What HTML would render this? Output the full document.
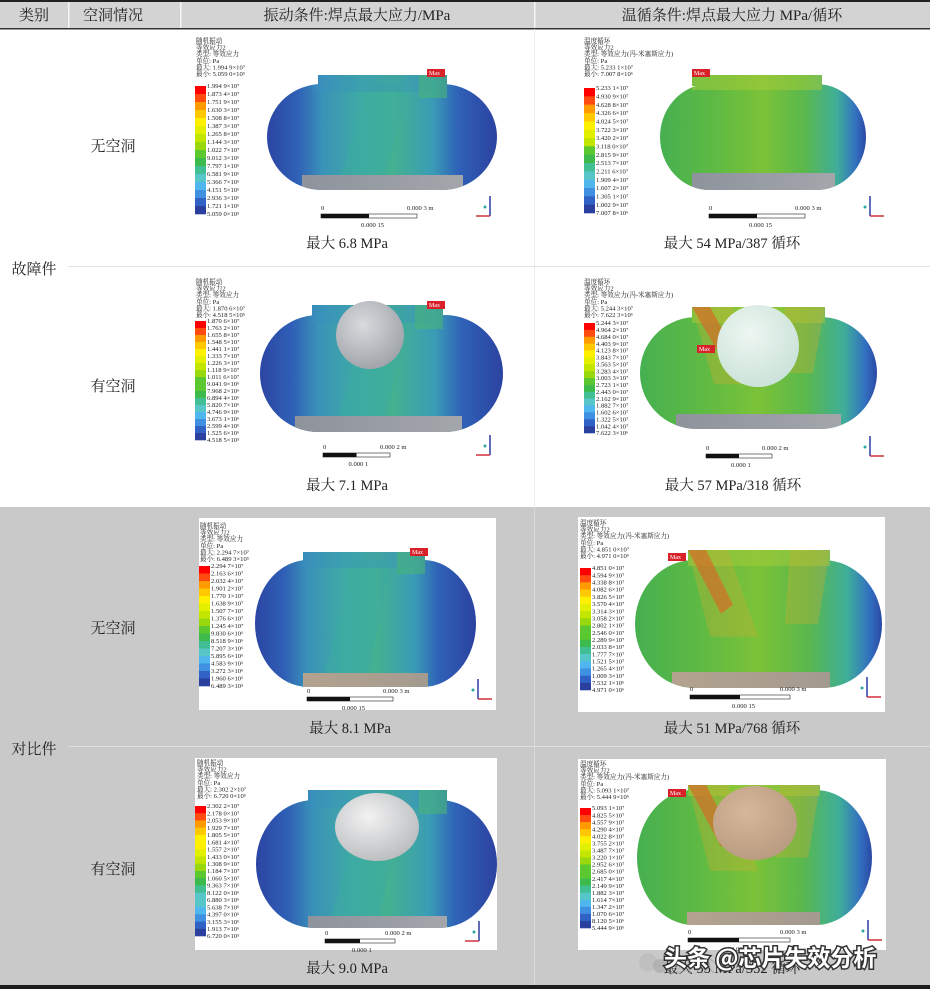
<!DOCTYPE html>
<html><head><meta charset="utf-8">
<style>
html,body{margin:0;padding:0;background:#fff;}
svg{display:block;}
.ser{font-family:"Liberation Serif","Noto Serif CJK SC",serif;}
.lg{font-family:"Liberation Serif","Noto Serif CJK SC",serif;font-size:6.6px;fill:#222;}
</style></head>
<body>
<svg id="s" width="930" height="989" viewBox="0 0 930 989" xmlns="http://www.w3.org/2000/svg">
<defs>
<linearGradient id="gVib" x1="0" x2="1" y1="0" y2="0">
<stop offset="0" stop-color="#2b45a3"/><stop offset="0.13" stop-color="#2f5fb6"/><stop offset="0.24" stop-color="#3a92b8"/><stop offset="0.4" stop-color="#3eaaa5"/><stop offset="0.55" stop-color="#44b190"/><stop offset="0.72" stop-color="#3a9cb6"/><stop offset="0.83" stop-color="#2f62b8"/><stop offset="1" stop-color="#2b42a0"/>
</linearGradient>
<linearGradient id="gTemp" x1="0" x2="1" y1="0" y2="0">
<stop offset="0" stop-color="#46b050"/><stop offset="0.3" stop-color="#62bb42"/><stop offset="0.5" stop-color="#7cc238"/><stop offset="0.7" stop-color="#5ab84c"/><stop offset="0.86" stop-color="#3fae9a"/><stop offset="0.95" stop-color="#3270c0"/><stop offset="1" stop-color="#2b48a4"/>
</linearGradient>
<linearGradient id="gPlate" x1="0" x2="1"><stop offset="0" stop-color="#8e939c"/><stop offset="1" stop-color="#a3a6ab"/></linearGradient>
<linearGradient id="gTan" x1="0" x2="1"><stop offset="0" stop-color="#b3a38f"/><stop offset="1" stop-color="#a39a8f"/></linearGradient>
<radialGradient id="rGray" cx="0.4" cy="0.35" r="0.7"><stop offset="0" stop-color="#d8dadd"/><stop offset="1" stop-color="#9ea2a8"/></radialGradient>
<radialGradient id="rMint" cx="0.4" cy="0.35" r="0.7"><stop offset="0" stop-color="#eef6f2"/><stop offset="1" stop-color="#c9e2d8"/></radialGradient>
<radialGradient id="rWhite" cx="0.4" cy="0.35" r="0.7"><stop offset="0" stop-color="#f2f2f2"/><stop offset="1" stop-color="#b9bbbe"/></radialGradient>
<radialGradient id="rTan" cx="0.4" cy="0.35" r="0.7"><stop offset="0" stop-color="#d6b79a"/><stop offset="1" stop-color="#b89a80"/></radialGradient>
</defs>

<rect x="0" y="0" width="930" height="989" fill="#ffffff"/>
<rect x="0" y="0" width="930" height="28" fill="#d3d3d3"/>
<rect x="0" y="0" width="930" height="2" fill="#222"/>
<rect x="0" y="28" width="930" height="1.5" fill="#333"/>
<rect x="68" y="2" width="1.5" height="26" fill="#f4f4f4"/>
<rect x="180" y="2" width="1.5" height="26" fill="#f4f4f4"/>
<rect x="534" y="2" width="1.5" height="26" fill="#f4f4f4"/>
<rect x="68" y="266" width="862" height="1" fill="#e2e2e2"/>
<rect x="534" y="29" width="1" height="477" fill="#ececec"/>
<rect x="0" y="507" width="930" height="479" fill="#c9c9c9"/>
<rect x="68" y="746" width="862" height="1" fill="#dedede"/>
<rect x="534" y="507" width="1" height="479" fill="#dadada"/>
<rect x="0" y="985" width="930" height="4" fill="#1c1c1c"/>

<g class="ser" font-size="15" fill="#222" text-anchor="middle">
<text x="34" y="20">类别</text>
<text x="113" y="20">空洞情况</text>
<text x="357" y="20">振动条件:焊点最大应力/MPa</text>
<text x="732" y="20">温循条件:焊点最大应力 MPa/循环</text>
<text x="34" y="274">故障件</text>
<text x="113" y="151">无空洞</text>
<text x="113" y="391">有空洞</text>
<text x="34" y="754">对比件</text>
<text x="113" y="633">无空洞</text>
<text x="113" y="874">有空洞</text>
</g>
<g id="panels"></g>
<g>
<circle cx="648" cy="962" r="9" fill="#bbb" opacity="0.7"/><circle cx="660" cy="966" r="7" fill="#aaa" opacity="0.7"/>
<text x="672" y="972" class="ser" font-size="22" fill="#aaa" opacity="0.6">公众</text>
<text x="664" y="966" font-family="'Noto Sans CJK SC',sans-serif" font-size="23" font-weight="bold" fill="#fff" stroke="#333" stroke-width="3" paint-order="stroke">头条 @芯片失效分析</text>
</g>
</svg>
<script>
const p1Values=["1.994 9×10⁷","1.873 4×10⁷","1.751 9×10⁷","1.630 3×10⁷","1.508 8×10⁷","1.387 3×10⁷","1.265 8×10⁷","1.144 3×10⁷","1.022 7×10⁷","9.012 3×10⁶","7.797 1×10⁶","6.581 9×10⁶","5.366 7×10⁶","4.151 5×10⁶","2.936 3×10⁶","1.721 1×10⁶","5.059 0×10⁵"];
const p2Values=["5.233 1×10⁷","4.930 9×10⁷","4.628 8×10⁷","4.326 6×10⁷","4.024 5×10⁷","3.722 3×10⁷","3.420 2×10⁷","3.118 0×10⁷","2.815 9×10⁷","2.513 7×10⁷","2.211 6×10⁷","1.909 4×10⁷","1.607 2×10⁷","1.305 1×10⁷","1.002 9×10⁷","7.007 8×10⁶"];
const p3Values=["1.870 6×10⁷","1.763 2×10⁷","1.655 8×10⁷","1.548 5×10⁷","1.441 1×10⁷","1.333 7×10⁷","1.226 3×10⁷","1.118 9×10⁷","1.011 6×10⁷","9.041 9×10⁶","7.968 2×10⁶","6.894 4×10⁶","5.820 7×10⁶","4.746 9×10⁶","3.673 1×10⁶","2.599 4×10⁶","1.525 6×10⁶","4.518 5×10⁵"];
const p4Values=["5.244 3×10⁷","4.964 2×10⁷","4.684 0×10⁷","4.403 9×10⁷","4.123 8×10⁷","3.843 7×10⁷","3.563 5×10⁷","3.283 4×10⁷","3.003 3×10⁷","2.723 1×10⁷","2.443 0×10⁷","2.162 9×10⁷","1.882 7×10⁷","1.602 6×10⁷","1.322 5×10⁷","1.042 4×10⁷","7.622 3×10⁶"];
const p5Values=["2.294 7×10⁷","2.163 6×10⁷","2.032 4×10⁷","1.901 2×10⁷","1.770 1×10⁷","1.638 9×10⁷","1.507 7×10⁷","1.376 6×10⁷","1.245 4×10⁷","9.830 6×10⁶","8.518 9×10⁶","7.207 3×10⁶","5.895 6×10⁶","4.583 9×10⁶","3.272 3×10⁶","1.960 6×10⁶","6.489 3×10⁵"];
const p6Values=["4.851 0×10⁷","4.594 9×10⁷","4.338 8×10⁷","4.082 6×10⁷","3.826 5×10⁷","3.570 4×10⁷","3.314 3×10⁷","3.058 2×10⁷","2.802 1×10⁷","2.546 0×10⁷","2.289 9×10⁷","2.033 8×10⁷","1.777 7×10⁷","1.521 5×10⁷","1.265 4×10⁷","1.009 3×10⁷","7.532 1×10⁶","4.971 0×10⁶"];
const p7Values=["2.302 2×10⁷","2.178 0×10⁷","2.053 9×10⁷","1.929 7×10⁷","1.805 5×10⁷","1.681 4×10⁷","1.557 2×10⁷","1.433 0×10⁷","1.308 9×10⁷","1.184 7×10⁷","1.060 5×10⁷","9.363 7×10⁶","8.122 0×10⁶","6.880 3×10⁶","5.638 7×10⁶","4.397 0×10⁶","3.155 3×10⁶","1.913 7×10⁶","6.720 0×10⁵"];
const p8Values=["5.093 1×10⁷","4.825 5×10⁷","4.557 9×10⁷","4.290 4×10⁷","4.022 8×10⁷","3.755 2×10⁷","3.487 7×10⁷","3.220 1×10⁷","2.952 6×10⁷","2.685 0×10⁷","2.417 4×10⁷","2.149 9×10⁷","1.882 3×10⁷","1.614 7×10⁷","1.347 2×10⁷","1.070 6×10⁷","8.120 5×10⁶","5.444 9×10⁶"];
const captions=["最大 6.8 MPa","最大 54 MPa/387 循环","最大 7.1 MPa","最大 57 MPa/318 循环","最大 8.1 MPa","最大 51 MPa/768 循环","最大 9.0 MPa","最大 55 MPa/352 循环"];
const scaleLabels=[["0.000 3 m","0.000 15"],["0.000 3 m","0.000 15"],["0.000 2 m","0.000 1"],["0.000 2 m","0.000 1"],["0.000 3 m","0.000 15"],["0.000 3 m","0.000 15"],["0.000 2 m","0.000 1"],["0.000 3 m","0.000 15"]];

const cmap=['#ff0000','#ff4a10','#ff9a00','#ffc800','#fff000','#e2f000','#c2e600','#98d80c','#5cc830','#3cba4c','#40bf94','#56c6c8','#4fb6ee','#3f90e0','#2f62c4','#2a3f9e'];
function cAt(i,n){return cmap[Math.min(15,Math.round(i*15/Math.max(1,n-1)))];}

const P=[
 {vals:p1Values,t:'v',bg:null,lx:195,ly:86,lb:214,tx:196,ty:43,tab:[318,447,75],body:[267,497,84,190],plate:[302,463,175,190],sb:[321,417,214],cx:347,cy:248,mx:[427,73]},
 {vals:p2Values,t:'t',bg:null,lx:584,ly:88,lb:213,tx:584,ty:43,tab:[692,822,75],body:[660,866,84,190],plate:[692,835,173,188],sb:[709,805,214],cx:732,cy:248,mx:[692,73]},
 {vals:p3Values,t:'v',bg:null,lx:195,ly:321,lb:440,tx:196,ty:284,tab:[312,443,305],body:[260,503,315,432],plate:[295,462,416,432],sb:[323,390,453],cx:347,cy:490,mx:[427,305],vd:[370,335,34,34,'rGray']},
 {vals:p4Values,t:'t',bg:null,lx:584,ly:323,lb:433,tx:584,ty:284,tab:[692,825,307],body:[640,877,317,429],plate:[676,841,414,429],sb:[706,772,454],cx:733,cy:490,mx:[697,349],vd:[758,346,41,41,'rMint'],hot:true},
 {vals:p5Values,t:'v',bg:[199,518,297,192],lx:199,ly:566,lb:686,tx:200,ty:528,tab:[303,425,552],body:[255,476,560,687],plate:[303,428,673,687],sb:[307,393,697],cx:350,cy:733,mx:[410,552]},
 {vals:p6Values,t:'t',bg:[578,517,307,195],lx:580,ly:568,lb:690,tx:580,ty:525,tab:[688,830,550],body:[635,882,560,688],plate:[672,830,672,688],sb:[690,790,695],cx:732,cy:733,mx:[668,557],hot:true},
 {vals:p7Values,t:'v',bg:[195,758,302,192],lx:195,ly:806,lb:936,tx:197,ty:765,tab:[308,447,790],body:[256,497,800,928],plate:[308,447,916,928],sb:[325,395,939],cx:347,cy:973,mx:null,vd:[377,827,42,34,'rWhite']},
 {vals:p8Values,t:'t',bg:[578,759,308,191],lx:580,ly:808,lb:928,tx:580,ty:766,tab:[688,820,785],body:[637,872,790,925],plate:[687,820,912,925],sb:[688,790,938],cx:732,cy:973,mx:[668,793],vd:[755,823,42,37,'rTan'],hot:true}
];
const NS='http://www.w3.org/2000/svg';
const root=document.getElementById('panels');
function el(tag,attrs,parent){const e=document.createElementNS(NS,tag);for(const k in attrs)e.setAttribute(k,attrs[k]);(parent||root).appendChild(e);return e;}

P.forEach((p,i)=>{
 const g=el('g',{});
 
 
 if(p.bg){el('rect',{x:p.bg[0],y:p.bg[1],width:p.bg[2],height:p.bg[3],fill:'#fff'},g);}
 const title=p.t==='v'?['随机振动','等效应力2','类型: 等效应力','单位: Pa','最大: '+p.vals[0],'最小: '+p.vals[p.vals.length-1]]:['温度循环','等效应力2','类型: 等效应力(冯-米塞斯应力)','单位: Pa','最大: '+p.vals[0],'最小: '+p.vals[p.vals.length-1]];
 title.forEach((s,k)=>{const t=el('text',{x:p.tx,y:p.ty+k*6.6,class:'lg'},g);t.textContent=s;});
 const n=p.vals.length, nb=n-1, h=(p.lb-p.ly)/nb;
 const lg=el('g',{},g);
 
 
 for(let k=0;k<nb;k++){
  const r=el('rect',{x:p.lx,y:p.ly+k*h,width:11,height:h+0.3,fill:cAt(k,nb)},lg);
  
  
 }
 p.vals.forEach((v,k)=>{const t=el('text',{x:p.lx+12,y:p.ly+k*h+2.2,class:'lg'},lg);t.textContent=v;});
 const [x0,x1,yt,yb]=p.body, H=yb-yt, rx=(x1-x0)*0.24, ry=H/2;
 const cid='clip'+i;
 const cp=el('clipPath',{id:cid},g);
 const d=`M${x0+rx},${yt} L${x1-rx},${yt} A${rx},${ry} 0 0 1 ${x1-rx},${yb} L${x0+rx},${yb} A${rx},${ry} 0 0 1 ${x0+rx},${yt} Z`;
 el('path',{d:d},cp);
 el('rect',{x:p.tab[0],y:p.tab[2],width:p.tab[1]-p.tab[0],height:yt-p.tab[2]+2},cp);
 const sh=el('g',{'clip-path':`url(#${cid})`},g);
 
 
 el('rect',{x:x0,y:p.tab[2],width:x1-x0,height:yb-p.tab[2],fill:p.t==='v'?'url(#gVib)':'url(#gTemp)'},sh);
 const W=x1-x0;
 if(p.t==='v'){
  el('path',{d:`M${x0+W*0.3},${yb} L${x0+W*0.45},${yt} L${x0+W*0.62},${yt} L${x0+W*0.5},${yb} Z`,fill:'#3bab9f',opacity:0.5},sh);
  el('rect',{x:x0+W*0.2,y:p.tab[2],width:W*0.55,height:(yt-p.tab[2])+8,fill:'#3a8fc0',opacity:0.35},sh);
  el('rect',{x:p.tab[1]-28,y:p.tab[2],width:28,height:yt-p.tab[2]+14,fill:'#48b478',opacity:0.6},sh);
 } else {
  el('rect',{x:p.tab[0],y:p.tab[2],width:p.tab[1]-p.tab[0],height:yt-p.tab[2]+6,fill:'#a8cc38',opacity:0.5},sh);
  if(p.hot){
   el('path',{d:`M${p.tab[0]},${p.tab[2]} L${p.tab[0]+18},${p.tab[2]} L${p.tab[0]+45},${yt+H*0.35} L${p.tab[0]+33},${yt+H*0.42} Z`,fill:'#d84a22',opacity:0.7},sh);
   el('path',{d:`M${p.tab[0]},${p.tab[2]} L${p.tab[0]+40},${p.tab[2]} L${p.tab[0]+70},${yt+H*0.6} L${p.tab[0]+22},${yt+H*0.6} Z`,fill:'#c8b030',opacity:0.35},sh);
   el('path',{d:`M${p.tab[1]-40},${p.tab[2]} L${p.tab[1]},${p.tab[2]} L${p.tab[1]-12},${yt+H*0.5} L${p.tab[1]-45},${yt+H*0.5} Z`,fill:'#c8b030',opacity:0.35},sh);
  }
 }
 el('rect',{x:p.plate[0],y:p.plate[2],width:p.plate[1]-p.plate[0],height:p.plate[3]-p.plate[2]+2,fill:(i>=4&&i!==6)?'url(#gTan)':'url(#gPlate)'},sh);
 if(p.vd){
  const v=el('ellipse',{cx:p.vd[0],cy:p.vd[1],rx:p.vd[2],ry:p.vd[3],fill:`url(#${p.vd[4]})`},g);
  
  
 }
 if(p.mx){
  el('rect',{x:p.mx[0],y:p.mx[1]-4,width:18,height:8,fill:'#d8222a'},g);
  const t=el('text',{x:p.mx[0]+2,y:p.mx[1]+2,'font-size':6,fill:'#fff',class:'ser'},g);t.textContent='Max';
 }
 const [s0,s1,sy]=p.sb, sm=(s0+s1)/2;
 el('rect',{x:s0,y:sy,width:s1-s0,height:4,fill:'#fff',stroke:'#222','stroke-width':0.6},g);
 el('rect',{x:s0,y:sy,width:sm-s0,height:4,fill:'#111'},g);
 let t=el('text',{x:s0,y:sy-4,class:'lg'},g);t.textContent='0';
 t=el('text',{x:s1-10,y:sy-4,class:'lg'},g);t.textContent=scaleLabels[i][0];
 t=el('text',{x:sm-8,y:sy+13,class:'lg'},g);t.textContent=scaleLabels[i][1];
 const ax=p.bg?p.bg[0]+p.bg[2]-18:(i%2?870:490), ay=sy+2;
 el('line',{x1:ax,y1:ay,x2:ax,y2:ay-20,stroke:'#2a3ca0','stroke-width':1.5},g);
 el('line',{x1:ax,y1:ay,x2:ax+(i%2||i===4?14:-14),y2:ay,stroke:'#d0303a','stroke-width':1.5},g);
 el('circle',{cx:ax-5,cy:ay-9,r:1.5,fill:'#2aa8a0'},g);
 const c=el('text',{x:p.cx,y:p.cy,'text-anchor':'middle','font-size':14.5,fill:'#222',class:'ser'},g);
 
 
 c.textContent=captions[i];
});
</script>
</body></html>
